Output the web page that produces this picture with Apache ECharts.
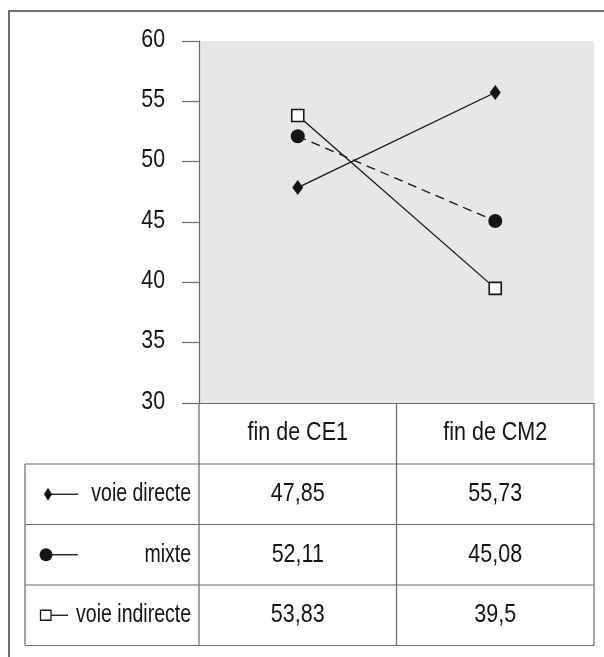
<!DOCTYPE html>
<html><head><meta charset="utf-8">
<script src="https://cdn.jsdelivr.net/npm/echarts@6/dist/echarts.min.js"></script>
<style>html,body{margin:0;padding:0;background:#fff}#c{width:604px;height:657px}</style>
</head><body><div id="c"></div>
<script>
const categories = ['fin de CE1', 'fin de CM2'];
const seriesNames = ['voie directe', 'mixte', 'voie indirecte'];
const voieDirecte = [47.85, 55.73];
const mixte = [52.11, 45.08];
const voieIndirecte = [53.83, 39.5];
const yTicks = [30, 35, 40, 45, 50, 55, 60];

const FONT = "'Liberation Sans', Arial, sans-serif";
const INK = '#141414';
const GRID = '#6a6a6a';

const chart = echarts.init(document.getElementById('c'), null, {renderer: 'canvas'});

const mk = (name, data, symbol, size, lineType, fill) => ({
  name, type: 'line', data, symbol, symbolSize: size,
  lineStyle: {color: INK, width: 1.3, type: lineType},
  itemStyle: {color: fill, borderColor: INK, borderWidth: fill === '#ffffff' ? 1.6 : 0},
  emphasis: {disabled: true}, z: 3
});

chart.setOption({
  animation: false,
  grid: {left: 199, right: 10, top: 41, bottom: 254, show: true, backgroundColor: '#e6e7e8', borderWidth: 0},
  xAxis: {
    type: 'category', data: categories, boundaryGap: true,
    axisLine: {show: true, lineStyle: {color: GRID, width: 1.2}},
    axisTick: {show: false},
    axisLabel: {show: false}
  },
  yAxis: {
    type: 'value', min: yTicks[0], max: yTicks[yTicks.length - 1], interval: 5,
    axisLine: {show: true, lineStyle: {color: GRID, width: 1.2}},
    axisTick: {show: true, inside: false, length: 17, lineStyle: {color: GRID, width: 1.2}},
    axisLabel: {show: false},
    splitLine: {show: false}
  },
  series: [
    mk(seriesNames[0], voieDirecte, 'diamond', [11, 15], 'solid', INK),
    mk(seriesNames[1], mixte, 'circle', 14, [9, 6], INK),
    mk(seriesNames[2], voieIndirecte, 'rect', 12, 'solid', '#ffffff')
  ]
});

// condensed-looking text drawn on the axes' pixel scale
const g = [];
const txt = (s, x, y, size, align, sx) => g.push({
  type: 'text', x, y, scaleX: sx, silent: true,
  style: {text: s, font: size + 'px ' + FONT, fill: INK, align, verticalAlign: 'middle'}
});

// y tick labels
yTicks.forEach(v => txt(String(v), 165, chart.convertToPixel({yAxisIndex: 0}, v) - 1.5, 26, 'right', 0.82));

const allSeries = [voieDirecte, mixte, voieIndirecte];
const xs = categories.map(c => chart.convertToPixel({xAxisIndex: 0}, c));
const colW = xs[1] - xs[0];
const leftEdge = xs[0] - colW / 2, midEdge = xs[0] + colW / 2, rightEdge = xs[1] + colW / 2;
const axisY = chart.convertToPixel({yAxisIndex: 0}, yTicks[0]);
const headerH = 61, rowH = 60.5, tableLeft = 25;
const line = (xa, ya, xb, yb) => g.push({type: 'line', shape: {x1: xa, y1: ya, x2: xb, y2: yb}, style: {stroke: GRID, lineWidth: 1.2}, silent: true});
const rowTop = i => axisY + headerH + i * rowH;
const tableBottom = rowTop(allSeries.length);
line(leftEdge, axisY, leftEdge, tableBottom);
line(midEdge, axisY, midEdge, tableBottom);
line(rightEdge, axisY, rightEdge, tableBottom);
line(tableLeft, rowTop(0), tableLeft, tableBottom);
for (let i = 0; i <= allSeries.length; i++) line(tableLeft, rowTop(i), rightEdge, rowTop(i));

// header (category labels)
categories.forEach((c, j) => txt(c, xs[j], axisY + headerH / 2, 25, 'center', 0.86));

const fmt = v => String(v).replace('.', ',');
allSeries.forEach((vals, i) => {
  const cy = rowTop(i) + rowH / 2;
  txt(seriesNames[i], leftEdge - 8, cy, 25, 'right', 0.78);
  xs.forEach((cx, j) => txt(fmt(vals[j]), cx, cy, 25, 'center', 0.86));
});
// legend keys
let cy = rowTop(0) + rowH / 2;
g.push({type: 'line', shape: {x1: 48, y1: cy, x2: 78, y2: cy}, style: {stroke: INK, lineWidth: 1.3}, silent: true});
g.push({type: 'polygon', shape: {points: [[48, cy - 6.5], [52, cy], [48, cy + 6.5], [44, cy]]}, style: {fill: INK}, silent: true});
cy = rowTop(1) + rowH / 2;
g.push({type: 'line', shape: {x1: 46, y1: cy, x2: 78, y2: cy}, style: {stroke: INK, lineWidth: 1.3}, silent: true});
g.push({type: 'circle', shape: {cx: 46, cy: cy, r: 6.5}, style: {fill: INK}, silent: true});
cy = rowTop(2) + rowH / 2;
g.push({type: 'line', shape: {x1: 51, y1: cy, x2: 68, y2: cy}, style: {stroke: INK, lineWidth: 1.3}, silent: true});
g.push({type: 'rect', shape: {x: 40.5, y: cy - 5, width: 10.5, height: 10}, style: {fill: '#fff', stroke: INK, lineWidth: 1.3}, silent: true});
// outer frame
g.push({type: 'rect', shape: {x: 9, y: 11, width: 700, height: 800}, style: {fill: null, stroke: '#444', lineWidth: 1.5}, silent: true, z: -1});
chart.setOption({graphic: g});
</script></body></html>
